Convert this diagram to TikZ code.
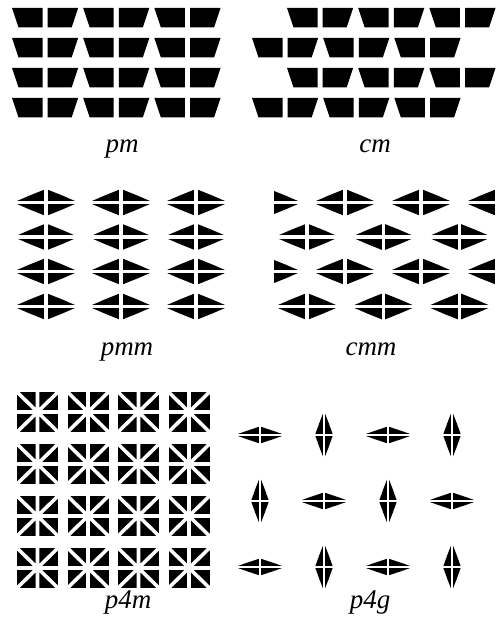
\documentclass[tikz,border=0pt]{standalone}
\usepackage{fontspec}
\setmainfont{Liberation Serif}
\tikzset{
  ink/.style={fill=black},
  lbl/.style={anchor=base,font=\fontsize{27}{30}\selectfont\itshape},
  pics/motif/.style n args={3}{code={
    \fill[black] (-#1,0) -- (-0.5*#1,-0.52*#2) -- (0,-#2) -- (0.5*#1,-0.52*#2) -- (#1,0)
      -- (0.5*#1,0.52*#2) -- (0,#2) -- (-0.5*#1,0.52*#2) -- cycle;
    \draw[white,line width=#3] (-#1-1,0) -- (#1+1,0) (0,-#2-1) -- (0,#2+1);
  }},
  pics/star/.style={code={
    \fill[black] (-20.5,-20) rectangle (20.5,20);
    \draw[white,line width=3.6] (-21,0) -- (21,0) (0,-21) -- (0,21)
      (-21,-20.5) -- (21,20.5) (-21,20.5) -- (21,-20.5);
  }}
}
\begin{document}
\begin{tikzpicture}[x=1pt,y=-1pt]
\fill[white] (0,0) rectangle (497,628);
\useasboundingbox (0,0) rectangle (497,628);
% ---------- pm ----------
\foreach \r in {0,1,2,3}{
  \foreach \j in {0,1,2}{
    \pgfmathsetmacro{\xa}{12+71.2*\j}
    \pgfmathsetmacro{\xb}{\xa+35.6}
    \pgfmathsetmacro{\yt}{8+30*\r}
    \fill[ink] (\xa,\yt) -- ++(30.5,0) -- ++(0,19.5) -- ++(-24,0) -- cycle;
    \fill[ink] (\xb,\yt) -- ++(30.5,0) -- ++(-6.5,19.5) -- ++(-24,0) -- cycle;
  }
}
% ---------- cm ----------
\begin{scope}
\clip (250,0) rectangle (497,125);
\foreach \r in {0,1,2,3}{
  \pgfmathsetmacro{\xs}{mod(\r,2)==0 ? 287 : 252}
  \foreach \j in {0,1,2}{
    \pgfmathsetmacro{\xa}{\xs+71.2*\j}
    \pgfmathsetmacro{\xb}{\xa+35.6}
    \pgfmathsetmacro{\yt}{8+30*\r}
    \fill[ink] (\xa,\yt) -- ++(30.5,0) -- ++(0,19.5) -- ++(-24,0) -- cycle;
    \fill[ink] (\xb,\yt) -- ++(30.5,0) -- ++(-6.5,19.5) -- ++(-24,0) -- cycle;
  }
}
\end{scope}
\node[lbl] (lpm) at (122,153) {pm};
\node[lbl] (lcm) at (375,153) {cm};
% ---------- pmm ----------
\foreach \cx in {46,121,196}{
  \foreach \cy in {202.5,237,271.5,306.5}{
    \pic at (\cx,\cy) {motif={32.5}{13.5}{3.2}};
  }
}
% ---------- cmm ----------
\begin{scope}
\clip (274,180) rectangle (497,330);
\foreach \cy in {202.5,271.5}{
  \foreach \cx in {269,345,421,497}{
    \pic at (\cx,\cy) {motif={32.5}{13.5}{3.2}};
  }
}
\foreach \cy in {237,306.5}{
  \foreach \cx in {307,383.5,459.5}{
    \pic at (\cx,\cy) {motif={32.5}{13.5}{3.2}};
  }
}
\end{scope}
\node[lbl] (lpmm) at (127,355) {pmm};
\node[lbl] (lcmm) at (371,355) {cmm};
% ---------- p4m ----------
\foreach \i in {0,1,2,3}{
  \foreach \j in {0,1,2,3}{
    \pic at ({37.5+50.5*\i},{412+52*\j}) {star};
  }
}
% ---------- p4g ----------
\foreach \cy in {435,567}{
  \foreach \cx in {260,388}{ \pic at (\cx,\cy) {motif={25}{8.5}{2.4}}; }
  \foreach \cx in {324,452}{ \pic at (\cx,\cy) {motif={9}{24}{2.4}}; }
}
\foreach \cx in {324,452}{ \pic at (\cx,501) {motif={25}{8.5}{2.4}}; }
\foreach \cx in {260,388}{ \pic at (\cx,501) {motif={9}{24}{2.4}}; }
\node[lbl] (lp4m) at (128,608) {p4m};
\node[lbl] (lp4g) at (370,608) {p4g};
\end{tikzpicture}
\end{document}
